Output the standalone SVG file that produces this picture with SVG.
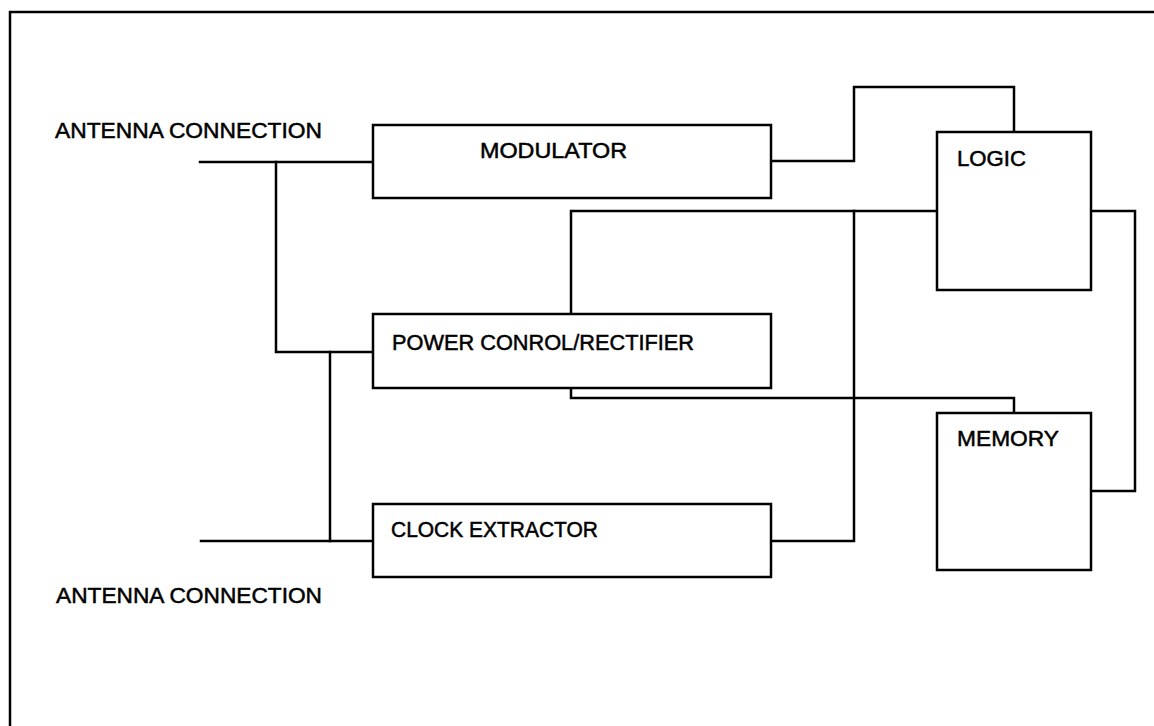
<svg xmlns="http://www.w3.org/2000/svg" width="1154" height="726" viewBox="0 0 1154 726">
<style>
.box{fill:#fff;stroke:#000;stroke-width:2.5}
.wire{fill:none;stroke:#000;stroke-width:2.5;stroke-linejoin:miter;stroke-linecap:square}
.lbl{font-family:"Liberation Sans",Arial,sans-serif;font-size:22px;fill:#000;stroke:#000;stroke-width:0.5}
</style>
<rect x="0" y="0" width="1154" height="726" fill="#fff"/>
<rect id="frame" x="10" y="12" width="1170" height="740" fill="none" stroke="#000" stroke-width="2.5"/>
<g id="connectors">
<path class="wire" d="M200 162 H373"/>
<path class="wire" d="M276 162 V352 H373"/>
<path class="wire" d="M201 541 H373"/>
<path class="wire" d="M330 352 V541"/>
<path class="wire" d="M771 161 H854 V87 H1014 V132"/>
<path class="wire" d="M571 314 V211 H937"/>
<path class="wire" d="M771 541 H854 V211"/>
<path class="wire" d="M571 388 V398 H1014 V413"/>
<path class="wire" d="M1091 211 H1135 V491 H1091"/>
</g>
<g id="antenna-top">
<text class="lbl" x="55" y="138" textLength="267" lengthAdjust="spacingAndGlyphs">ANTENNA CONNECTION</text>
</g>
<g id="antenna-bottom">
<text class="lbl" x="56" y="603" textLength="266" lengthAdjust="spacingAndGlyphs">ANTENNA CONNECTION</text>
</g>
<g id="modulator">
<rect class="box" x="373" y="125" width="398" height="73"/>
<text class="lbl" x="480" y="158" textLength="147" lengthAdjust="spacingAndGlyphs">MODULATOR</text>
</g>
<g id="power">
<rect class="box" x="373" y="314" width="398" height="74"/>
<text class="lbl" x="392" y="350" textLength="302" lengthAdjust="spacingAndGlyphs">POWER CONROL/RECTIFIER</text>
</g>
<g id="clock">
<rect class="box" x="373" y="504" width="398" height="73"/>
<text class="lbl" x="391" y="537" textLength="207" lengthAdjust="spacingAndGlyphs">CLOCK EXTRACTOR</text>
</g>
<g id="logic">
<rect class="box" x="937" y="132" width="154" height="158"/>
<text class="lbl" x="957" y="166" textLength="69" lengthAdjust="spacingAndGlyphs">LOGIC</text>
</g>
<g id="memory">
<rect class="box" x="937" y="413" width="154" height="157"/>
<text class="lbl" x="957" y="446" textLength="102" lengthAdjust="spacingAndGlyphs">MEMORY</text>
</g>
</svg>
